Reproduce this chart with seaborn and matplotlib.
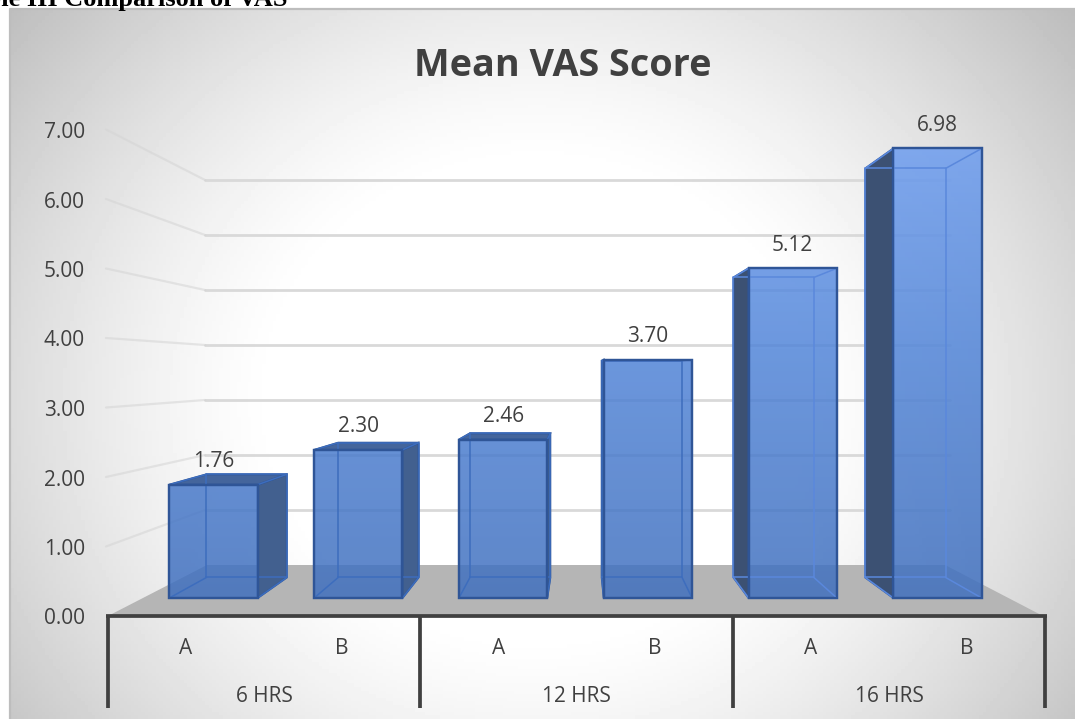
import numpy as np
import pandas as pd
import matplotlib
matplotlib.use('Agg')
import matplotlib.pyplot as plt
from matplotlib.colors import LinearSegmentedColormap
from matplotlib.patches import Polygon
import seaborn as sns

# Data
bar_names = ['6 HRS A', '6 HRS B', '12 HRS A', '12 HRS B', '16 HRS A', '16 HRS B']
scores = [1.76, 2.30, 2.46, 3.70, 5.12, 6.98]
series_labels = ['A', 'B', 'A', 'B', 'A', 'B']
group_labels = ['6 HRS', '12 HRS', '16 HRS']
y_ticks = [0, 1, 2, 3, 4, 5, 6, 7]

W, H = 1075, 719
TEXT = '#404040'
EDGE = '#2f5597'

sns.set_theme(style='white')
plt.rcParams['font.family'] = ['Open Sans', 'DejaVu Sans']

fig = plt.figure(figsize=(W / 100, H / 100), dpi=100, facecolor='white')

# Background layer works in pixels of the picture
bg = fig.add_axes([0, 0, 1, 1])
bg.set_xlim(0, W)
bg.set_ylim(H, 0)
bg.axis('off')

xx, yy = np.meshgrid(np.linspace(10, W, 300), np.linspace(9, H, 200))
rr = np.sqrt(((xx - 537) / 500) ** 2 + ((yy - 400) / 450) ** 2)
shade = 1 - 0.26 * np.clip((rr - 0.52) / 0.86, 0, 1) ** 1.3
bg.imshow(shade, extent=(10, W, H, 9), cmap='gray', vmin=0, vmax=1, aspect='auto', zorder=0)
bg.set_xlim(0, W)
bg.set_ylim(H, 0)
bg.plot([10, 10, W], [H, 9, 9], color='#bdbdbd', lw=1.6, zorder=1)

# Walls of the 3D box
for v in y_ticks:
    back_y = 565 - 55 * v
    front_y = 616 - 69.5 * v
    bg.text(85, front_y + 3, f'{v:.2f}', ha='right', va='center', fontsize=15, color=TEXT, zorder=6)
    if v > 0:
        bg.plot([205, 950], [back_y, back_y], color='#d9d9d9', lw=2, zorder=2)
        bg.plot([106, 205], [front_y, back_y], color='#d4d4d4', alpha=0.55, lw=1.6, zorder=2)
bg.add_patch(Polygon([(108, 616), (207, 565), (945, 565), (1043, 616)], closed=True, fc='#b5b5b5', ec='none', zorder=2))

# Multi level category axis
for x in [108, 420, 733, 1045]:
    bg.plot([x, x], [616, 708], color=TEXT, lw=2.7, solid_capstyle='butt', zorder=3)
bg.plot([106, 1047], [616, 616], color=TEXT, lw=2.7, solid_capstyle='butt', zorder=3)
for i, lab in enumerate(series_labels):
    bg.text(186 + 156.2 * i, 649, lab, ha='center', va='center', fontsize=15, color=TEXT, zorder=3)
for i, lab in enumerate(group_labels):
    bg.text(264 + 312.5 * i, 696, lab, ha='center', va='center', fontsize=15, color=TEXT, zorder=3)

bg.text(563, 66, 'Mean VAS Score', ha='center', va='center', fontsize=27.2, fontweight='bold', color=TEXT, zorder=3)
bg.text(287, 6, 'Table III Comparison of VAS', ha='right', va='baseline', fontsize=19,
        fontweight='bold', family='Liberation Serif', color='black', zorder=3)

# Bars
df = pd.DataFrame({'bar': bar_names, 'score': scores})
ax = fig.add_axes([0, 0, 1, 1], facecolor='none')
sns.barplot(data=df, x='bar', y='score', color='#5b84cc', width=0.61, saturation=1, ax=ax,
            edgecolor=EDGE, linewidth=1.6, zorder=5)
ax.axis('off')

# vanishing point and depth of the boxes, in data units
vx, vy, depth = 2.54, 3.54, 0.91


def back(x, y):
    return vx + (x - vx) * depth, vy + (y - vy) * depth


light_blue = LinearSegmentedColormap.from_list('bars', ['#6e9ef1', '#5084d8', '#3f6fbe'])

for p in list(ax.patches):
    x0, x1 = p.get_x(), p.get_x() + p.get_width()
    top = p.get_height()
    a, b = back(x0, 0), back(x1, 0)
    c, d = back(x1, top), back(x0, top)

    # side and top faces outside the front
    side_col = '#3c5173' if top > 4 else '#42608f'
    if a[0] < x0:
        ax.add_patch(Polygon([(x0, 0), a, d, (x0, top)], closed=True, fc=side_col, ec=EDGE, lw=1.4, zorder=3))
    if b[0] > x1:
        ax.add_patch(Polygon([(x1, 0), b, c, (x1, top)], closed=True, fc=side_col, ec=EDGE, lw=1.4, zorder=3))
    if d[1] > top:
        ax.add_patch(Polygon([(x0, top), d, c, (x1, top)], closed=True, fc='#44659c', ec=EDGE, lw=1.4, zorder=3))

    # front face, the fade is tied to the height in the plot, not to the bar
    p.set_facecolor('none')
    fade = np.linspace(1 - top / 7.2, 1, 256).reshape(-1, 1) ** 0.9
    im = ax.imshow(fade, extent=(x0, x1, 0, top), cmap=light_blue, vmin=0, vmax=1, alpha=0.84,
                   aspect='auto', zorder=4)
    im.set_clip_path(p)

    # inside edges of the box
    inner = '#3d6dbd' if top < 4 else '#5a88dc'
    ax.plot([a[0], b[0], c[0], d[0], a[0]], [a[1], b[1], c[1], d[1], a[1]], color=inner, lw=1.1, zorder=6)
    ax.plot([x0, a[0]], [0, a[1]], color=inner, lw=1.1, zorder=6)
    ax.plot([x1, b[0]], [0, b[1]], color=inner, lw=1.1, zorder=6)
    ax.plot([x1, c[0]], [top, c[1]], color=inner, lw=1.1, zorder=6)
    ax.plot([x0, d[0]], [top, d[1]], color=inner, lw=1.1, zorder=6)
    ax.add_patch(Polygon([(x0, 0), (x1, 0), (x1, top), (x0, top)], closed=True, fc='none', ec=EDGE, lw=1.6, zorder=7))

ax.set_xlim((0 - 213.5) / 144.8, (W - 213.5) / 144.8)
ax.set_ylim((598 - H) / 64.4, 598 / 64.4)

ax.bar_label(ax.containers[0], fmt='%.2f', padding=9, fontsize=15, color=TEXT, zorder=8)

fig.savefig('out.png', dpi=100)
